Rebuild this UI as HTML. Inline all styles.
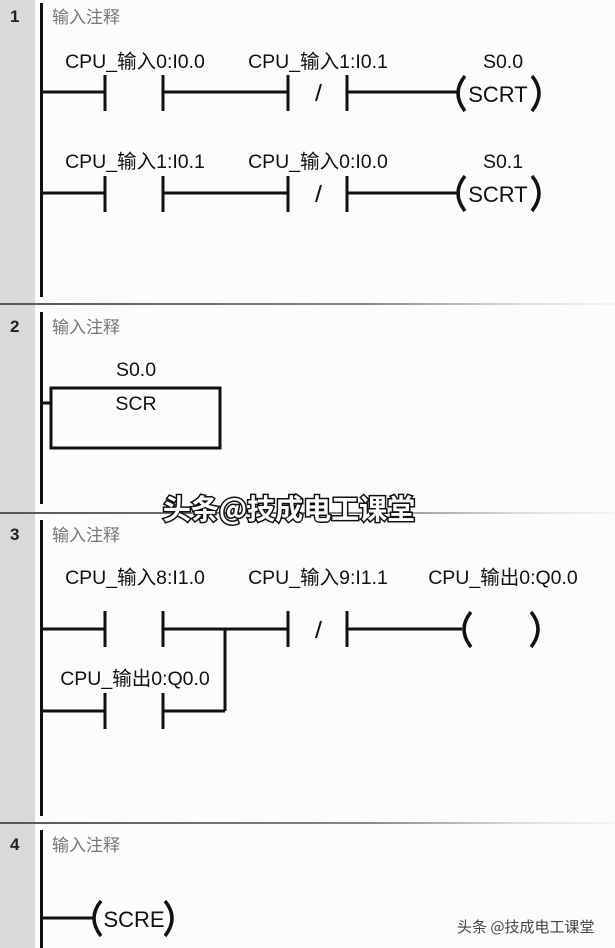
<!DOCTYPE html>
<html><head><meta charset="utf-8"><style>
html,body{margin:0;padding:0;background:#fcfbfd;}
svg{display:block}
text{font-family:"Liberation Sans","Noto Sans CJK SC",sans-serif;}
</style></head><body>
<svg width="615" height="948" viewBox="0 0 615 948" xmlns="http://www.w3.org/2000/svg">
<defs>
<linearGradient id="sep" x1="0" x2="1" y1="0" y2="0">
<stop offset="0" stop-color="#555"/><stop offset="0.6" stop-color="#888"/><stop offset="0.85" stop-color="#ddd"/><stop offset="1" stop-color="#f5f5f5"/>
</linearGradient>
</defs>
<rect x="0" y="0" width="615" height="948" fill="#fcfbfd"/>
<rect x="0" y="0" width="35" height="948" fill="#d9d9db"/>
<rect x="0" y="303" width="615" height="2" fill="url(#sep)"/>
<rect x="0" y="512" width="615" height="2" fill="url(#sep)"/>
<rect x="0" y="822" width="615" height="2" fill="url(#sep)"/>
<g font-size="17" font-weight="bold" fill="#222">
<text x="10" y="22">1</text><text x="10" y="332">2</text><text x="10" y="540">3</text><text x="10" y="850">4</text>
</g>
<g font-size="17" fill="#777">
<text x="52" y="23">输入注释</text><text x="52" y="333">输入注释</text><text x="52" y="541">输入注释</text><text x="52" y="851">输入注释</text>
</g>
<g fill="#111">
<rect x="40" y="3" width="3" height="294"/>
<rect x="40" y="312" width="3" height="192"/>
<rect x="40" y="520" width="3" height="296"/>
<rect x="40" y="830" width="3" height="118"/>
</g>
<g stroke="#111" stroke-width="3" fill="none">
<path d="M42 92H105M105 75V111M163 75V111M163 92H288M288 75V111M347 75V111M347 92H460"/>
<path d="M465 76Q451 93 465 111M532 76Q546 93 532 111" stroke-width="3.5"/>
<path d="M321 84L316 101" stroke-width="2"/>
<path d="M42 193H105M105 176V212M163 176V212M163 193H288M288 176V212M347 176V212M347 193H460"/>
<path d="M465 176Q451 193 465 211M532 176Q546 193 532 211" stroke-width="3.5"/>
<path d="M321 185L316 202" stroke-width="2"/>
<rect x="51" y="388" width="169" height="60"/>
<path d="M42 403H51"/>
<path d="M42 629H105M105 611V647M163 611V647M163 629H288M288 611V647M347 611V647M347 629H462"/>
<path d="M225 629V711M42 711H105M105 693V729M163 693V729M163 711H225"/>
<path d="M471 612Q457 629 471 647M531 612Q545 629 531 647" stroke-width="3.5"/>
<path d="M321 621L316 638" stroke-width="2"/>
<path d="M42 918H95"/>
<path d="M101 901Q87 918 101 936M165 901Q179 918 165 936" stroke-width="3.5"/>
</g>
<g font-size="19.5" fill="#111" text-anchor="middle">
<text x="135" y="68">CPU_输入0:I0.0</text>
<text x="318" y="68">CPU_输入1:I0.1</text>
<text x="503" y="68">S0.0</text>
<text x="135" y="168">CPU_输入1:I0.1</text>
<text x="318" y="168">CPU_输入0:I0.0</text>
<text x="503" y="168">S0.1</text>
<text x="136" y="376">S0.0</text>
<text x="136" y="410">SCR</text>
<text x="135" y="584">CPU_输入8:I1.0</text>
<text x="318" y="584">CPU_输入9:I1.1</text>
<text x="503" y="584">CPU_输出0:Q0.0</text>
<text x="135" y="685">CPU_输出0:Q0.0</text>
</g>
<g font-size="22" fill="#111" text-anchor="middle">
<text x="498" y="102">SCRT</text>
<text x="498" y="202">SCRT</text>
<text x="134" y="927">SCRE</text>
</g>
<text x="289" y="519" font-size="28" font-weight="bold" text-anchor="middle" fill="#fff" stroke="#111" stroke-width="3" paint-order="stroke" style="font-family:'Noto Sans CJK SC',sans-serif">头条@技成电工课堂</text>
<text x="457" y="932" font-size="15" fill="#444" style="font-family:'Noto Sans CJK SC',sans-serif">头条 @技成电工课堂</text>
</svg>
</body></html>
